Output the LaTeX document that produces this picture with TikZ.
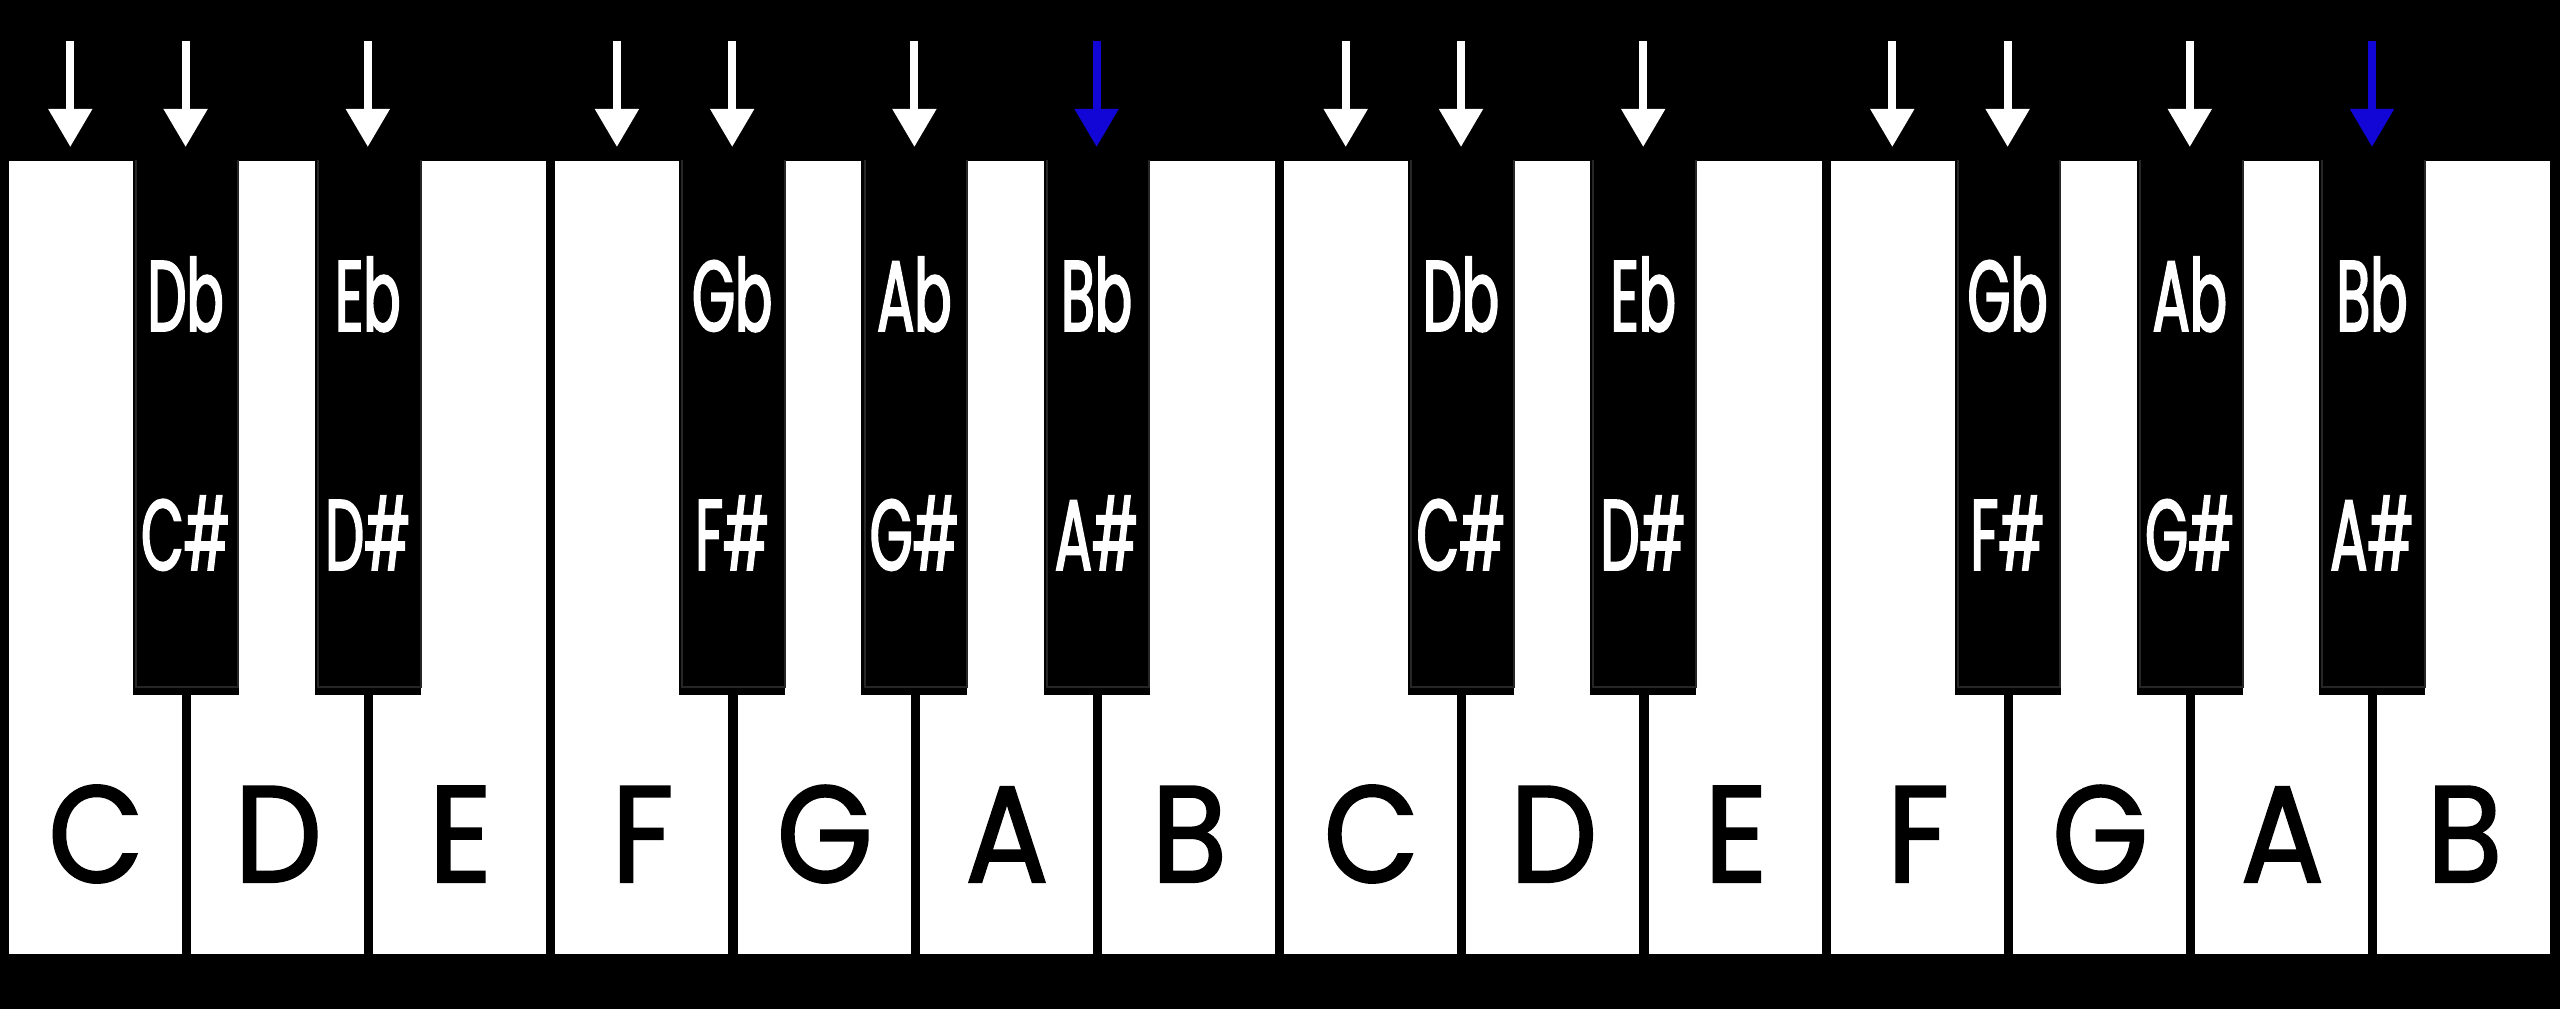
\documentclass[tikz,border=0pt]{standalone}
\usepackage{fontspec}
\setmainfont{Poppins}
\newfontfamily\keyfont[FakeStretch=0.9, FakeBold=1.6]{Poppins}
\newfontfamily\narrowfont[FakeStretch=0.55, FakeBold=1.8]{Poppins}
\usetikzlibrary{arrows.meta}

\definecolor{markblue}{RGB}{18,6,214}

\tikzset{
  whitekey/.style={fill=white, inner sep=0pt, minimum width=1.73cm, minimum height=7.93cm, anchor=north west},
  blackkey/.style={fill=black, inner sep=0pt, minimum width=1.06cm, minimum height=5.34cm, anchor=north},
  keyname/.style={font=\keyfont\fontsize{39}{39}\selectfont, text=black, anchor=base, inner sep=0pt},
  accname/.style={font=\narrowfont\fontsize{28.5}{28.5}\selectfont, text=white, anchor=base, inner sep=0pt},
  pointer/.style={-{Triangle[width=0.42cm,length=0.38cm]}, line width=0.08cm},
}

\begin{document}
\begin{tikzpicture}[x=0.01cm, y=-0.01cm]

% Background
\fill[black] (0,0) rectangle (2560,1009);
\useasboundingbox (0,0) rectangle (2560,1009);

% White keys with their names
\foreach \name [count=\i from 0] in {C,D,E,F,G,A,B,C,D,E,F,G,A,B} {
  \pgfmathsetmacro{\xl}{8+182.2*\i}
  \node[whitekey] (w\i) at (\xl,160) {};
  \node[keyname] (wn\i) at (\xl+88,882) {\name};
}

% Black keys, centred on the gap after white key \j
\foreach \j/\flat/\sharp in {0/Db/C\#, 1/Eb/D\#, 3/Gb/F\#, 4/Ab/G\#, 5/Bb/A\#,
                             7/Db/C\#, 8/Eb/D\#, 10/Gb/F\#, 11/Ab/G\#, 12/Bb/A\#} {
  \pgfmathsetmacro{\xc}{8+182.2*(\j+1)-4.6}
  \node[blackkey] (b\j) at (\xc,160) {};
  \draw[black!85, line width=0.02cm]
    ([xshift=0.04cm]b\j.north west) -- ([xshift=0.04cm,yshift=0.09cm]b\j.south west)
    -- ([xshift=-0.01cm,yshift=0.09cm]b\j.south east) -- ([xshift=-0.01cm]b\j.north east);
  \node[accname] (fl\j) at (\xc,331) {\flat};
  \node[accname] (sh\j) at (\xc,570) {\sharp};
}

% Arrows over the white keys C and F
\foreach \i in {0,3,7,10} {
  \pgfmathsetmacro{\xa}{(8+182.2*\i + 8+182.2*(\i+1)-4.6-53)/2}
  \coordinate (sw\i) at (\xa,41);
  \coordinate (tw\i) at (\xa,147);
  \draw[pointer, white] (sw\i) -- (tw\i);
}

% Arrows over the black keys (Bb in blue)
\foreach \j/\col in {0/white, 1/white, 3/white, 4/white, 5/markblue,
                     7/white, 8/white, 10/white, 11/white, 12/markblue} {
  \coordinate (sb\j) at ([yshift=1.19cm]b\j.north);
  \coordinate (tb\j) at ([yshift=0.13cm]b\j.north);
  \draw[pointer, \col] (sb\j) -- (tb\j);
}

\end{tikzpicture}
\end{document}
